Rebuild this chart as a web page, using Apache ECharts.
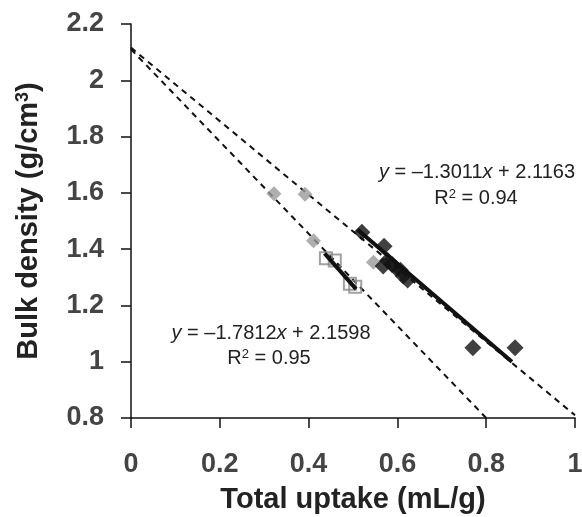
<!DOCTYPE html>
<html>
<head>
<meta charset="utf-8">
<script src="https://cdn.jsdelivr.net/npm/echarts@6/dist/echarts.min.js"></script>
<style>
html,body{margin:0;padding:0;background:#fff;}
#chart{width:582px;height:517px;}
</style>
</head>
<body>
<div id="chart"></div>
<script>
// ---- data ----
const blackPoints = [[0.52,1.46],[0.57,1.41],[0.568,1.34],[0.578,1.36],[0.588,1.345],[0.598,1.33],[0.607,1.325],[0.613,1.305],[0.623,1.29],[0.77,1.05],[0.865,1.05]];
const grayPoints = [[0.322,1.597],[0.392,1.595],[0.411,1.43],[0.546,1.353]];
const squarePoints = [[0.439,1.368],[0.459,1.36],[0.493,1.277],[0.505,1.266]];
const upperDashed = [[0,2.116],[1,0.81]];
const lowerDashed = [[0,2.11],[0.8,0.8]];
const upperFit = [[0.51,1.47],[0.858,1.0]];
const lowerFit = [[0.436,1.385],[0.507,1.258]];
const xRange = [0, 1, 0.2];
const yRange = [0.8, 2.2, 0.2];
const eqUpper = ['y', ' = –1.3011', 'x', ' + 2.1163'];
const r2Upper = ['R', '2', ' = 0.94'];
const eqLower = ['y', ' = –1.7812', 'x', ' + 2.1598'];
const r2Lower = ['R', '2', ' = 0.95'];

const FONT = '"Liberation Sans", Arial, sans-serif';
const chart = echarts.init(document.getElementById('chart'), null, {renderer:'canvas'});

const eqRich = {
  i:{fontFamily:FONT,fontSize:20,fontStyle:'italic',fill:'#222'},
  n:{fontFamily:FONT,fontSize:20,fill:'#222'},
  s:{fontFamily:FONT,fontSize:13,fill:'#222',verticalAlign:'top'}
};
function eqText(p){return '{i|'+p[0]+'}{n|'+p[1]+'}{i|'+p[2]+'}{n|'+p[3]+'}';}
function r2Text(p){return '{n|'+p[0]+'}{s|'+p[1]+'}{n|'+p[2]+'}';}

const axisLine = {show:true, lineStyle:{color:'#111', width:1.5}};
const axisTick = {show:true, inside:false, length:10, lineStyle:{color:'#111', width:1.5}};

chart.setOption({
  animation:false,
  backgroundColor:'#fff',
  grid:{left:131, right:7, top:24, bottom:99, containLabel:false, outerBoundsMode:'none'},
  xAxis:{
    type:'value', min:xRange[0], max:xRange[1], interval:xRange[2],
    axisLine, axisTick, splitLine:{show:false},
    axisLabel:{fontFamily:FONT, fontSize:27, fontWeight:'bold', color:'#444', margin:33, hideOverlap:false},
    name:'Total uptake (mL/g)', nameLocation:'middle', nameGap:67,
    nameTextStyle:{fontFamily:FONT, fontSize:29, fontWeight:'bold', color:'#222'}
  },
  yAxis:{
    type:'value', min:yRange[0], max:yRange[1], interval:yRange[2],
    axisLine, axisTick, splitLine:{show:false},
    axisLabel:{fontFamily:FONT, fontSize:27, fontWeight:'bold', color:'#444', margin:27},
    name:'{t|Bulk density (g/cm}{s|3}{t|)}', nameLocation:'middle', nameGap:88,
    nameTextStyle:{
      fontFamily:FONT, fontSize:29, fontWeight:'bold', color:'#222',
      rich:{
        t:{fontFamily:FONT, fontSize:29, fontWeight:'bold', color:'#222'},
        s:{fontFamily:FONT, fontSize:18, fontWeight:'bold', color:'#222', verticalAlign:'top'}
      }
    }
  },
  series:[
    {type:'line', data:upperDashed, symbol:'none', z:2, lineStyle:{color:'#111', width:2, type:[6,5]}},
    {type:'line', data:lowerDashed, symbol:'none', z:2, lineStyle:{color:'#111', width:2, type:[6,5]}},
    {type:'scatter', data:squarePoints, symbol:'rect', symbolSize:12, z:3,
      itemStyle:{color:'rgba(255,255,255,0)', borderColor:'#8a8a8a', borderWidth:2}},
    {type:'scatter', data:grayPoints, symbol:'diamond', symbolSize:15, z:3, itemStyle:{color:'#9a9a9a'}},
    {type:'scatter', data:blackPoints, symbol:'diamond', symbolSize:17, z:4, itemStyle:{color:'#111'}},
    {type:'line', data:upperFit, symbol:'none', z:5, lineStyle:{color:'#111', width:4}},
    {type:'line', data:lowerFit, symbol:'none', z:5, lineStyle:{color:'#111', width:4}}
  ],
  graphic:[
    {type:'text', x:477, y:172, z:10, style:{text:eqText(eqUpper), rich:eqRich, align:'center', verticalAlign:'middle'}},
    {type:'text', x:476, y:198, z:10, style:{text:r2Text(r2Upper), rich:eqRich, align:'center', verticalAlign:'middle'}},
    {type:'text', x:271, y:333, z:10, style:{text:eqText(eqLower), rich:eqRich, align:'center', verticalAlign:'middle'}},
    {type:'text', x:269, y:358, z:10, style:{text:r2Text(r2Lower), rich:eqRich, align:'center', verticalAlign:'middle'}}
  ]
});
</script>
</body>
</html>
